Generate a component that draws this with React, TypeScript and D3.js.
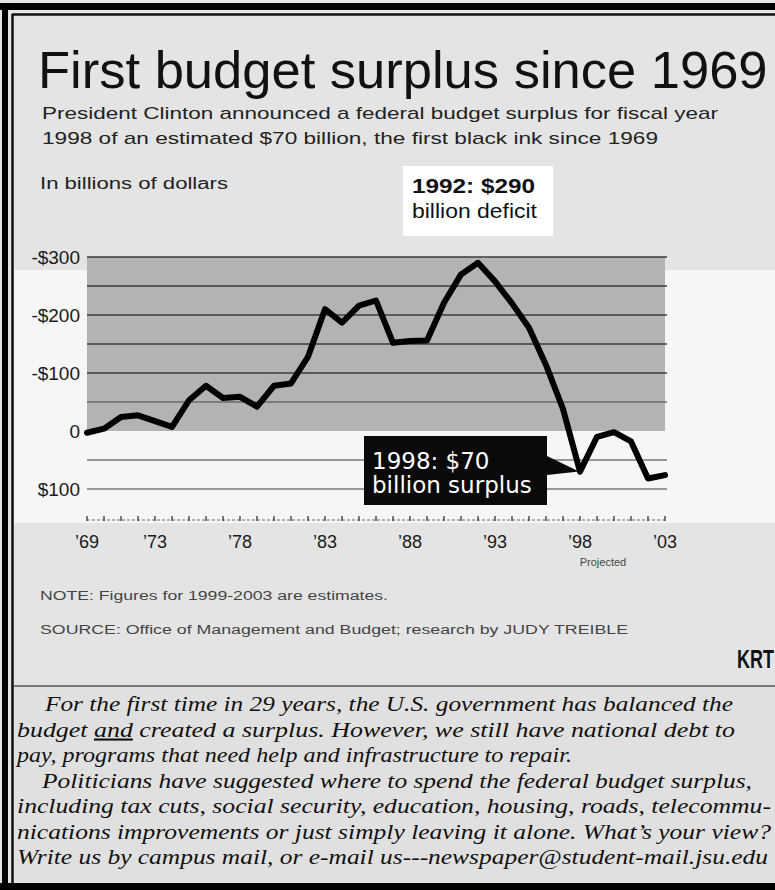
import React from "react";
import * as d3 from "d3";

const years = d3.range(1969, 2004);
const deficits = [
  -3, 4, 24, 27, 17, 7, 53, 78, 57, 59, 42, 78, 82, 128, 210, 187, 216, 225,
  152, 155, 156, 221, 270, 290, 258, 220, 178, 114, 38, -70, -10, -2, -18, -82, -76,
];
const yTickValues = [300, 200, 100, 0, -100];
const yTickLabels = ["-$300", "-$200", "-$100", "0", "$100"];
const gridDark = [300, 250, 200, 150, 100, 50];
const gridLight = [-50, -100];
const xLabelYears = [1969, 1973, 1978, 1983, 1988, 1993, 1998, 2003];
const xLabels = ["’69", "’73", "’78", "’83", "’88", "’93", "’98", "’03"];

const title = "First budget surplus since 1969";
const subtitle = [
  "President Clinton announced a federal budget surplus for fiscal year",
  "1998 of an estimated $70 billion, the first black ink since 1969",
];
const unitLabel = "In billions of dollars";
const note = "NOTE: Figures for 1999-2003 are estimates.";
const source = "SOURCE: Office of Management and Budget; research by JUDY TREIBLE";

const W = 775;
const H = 890;

export default function App() {
  const x = d3.scaleLinear().domain([1969, 2003]).range([87, 665]);
  const y = d3.scaleLinear().domain([0, 300]).range([431, 257]);
  const line = d3
    .line<number>()
    .x((_, i) => x(years[i]))
    .y((d) => y(d))
    .curve(d3.curveLinear);

  const sans = "'Liberation Sans', Arial, sans-serif";
  const serif = "'Liberation Serif', 'Times New Roman', serif";

  const tip = [x(1998), y(-70)];

  return (
    <svg
      width={W}
      height={H}
      style={{ position: "absolute", left: 0, top: 0 }}
      xmlns="http://www.w3.org/2000/svg"
    >
      <rect x={0} y={0} width={W} height={H} fill="#e4e4e4" />
      {/* white chart zone */}
      <rect x={14} y={270} width={W - 14} height={253} fill="#f6f6f6" />
      {/* deficit band */}
      <rect
        x={x(1969)}
        y={y(300)}
        width={x(2003) - x(1969)}
        height={y(0) - y(300)}
        fill="#b3b3b3"
      />
      {gridDark.map((g) => (
        <line
          key={"gd" + g}
          x1={x(1969)}
          x2={x(2003) + 2}
          y1={y(g)}
          y2={y(g)}
          stroke={g === 50 ? "#6a6a6a" : "#3d3d3d"}
          strokeWidth={1.6}
        />
      ))}
      {gridLight.map((g) => (
        <line
          key={"gl" + g}
          x1={x(1969)}
          x2={x(2003) + 2}
          y1={y(g)}
          y2={y(g)}
          stroke="#7a7a7a"
          strokeWidth={1.4}
        />
      ))}
      {/* y labels */}
      {yTickValues.map((v, i) => (
        <text
          key={"yl" + v}
          x={80}
          y={y(v) + 7}
          textAnchor="end"
          fontFamily={sans}
          fontSize={19}
          fill="#1a1a1a"
        >
          {yTickLabels[i]}
        </text>
      ))}
      {/* x axis */}
      <line
        x1={x(1969)}
        x2={x(2003)}
        y1={520}
        y2={520}
        stroke="#666"
        strokeWidth={1}
        strokeDasharray="3,2"
      />
      {years.map((yr) => (
        <line
          key={"t" + yr}
          x1={x(yr)}
          x2={x(yr)}
          y1={516}
          y2={521}
          stroke="#333"
          strokeWidth={1.3}
        />
      ))}
      {xLabelYears.map((yr, i) => (
        <text
          key={"xl" + yr}
          x={x(yr)}
          y={548}
          textAnchor="middle"
          fontFamily={sans}
          fontSize={18}
          fill="#1a1a1a"
        >
          {xLabels[i]}
        </text>
      ))}
      <text x={603} y={566} textAnchor="middle" fontFamily={sans} fontSize={11} fill="#444">
        Projected
      </text>

      {/* data line */}
      <path
        d={line(deficits) || ""}
        fill="none"
        stroke="#000"
        strokeWidth={6}
        strokeLinejoin="round"
        strokeLinecap="round"
      />

      {/* 1998 annotation */}
      <polygon
        points={`547,456 ${tip[0] - 1},${tip[1]} 547,475`}
        fill="#0a0a0a"
      />
      <rect x={364} y={436} width={183} height={69} fill="#0a0a0a" />
      <text x={372} y={469} fontFamily="'DejaVu Sans', sans-serif" fontSize={23} fill="#fff">
        1998: $70
      </text>
      <text x={372} y={493} fontFamily="'DejaVu Sans', sans-serif" fontSize={23} fill="#fff">
        billion surplus
      </text>

      {/* 1992 annotation */}
      <rect x={403} y={166} width={150} height={70} fill="#ffffff" />
      <text
        x={412}
        y={193}
        fontFamily={sans}
        fontWeight="bold"
        fontSize={21}
        fill="#111"
        textLength={123}
        lengthAdjust="spacingAndGlyphs"
      >
        1992: $290
      </text>
      <text
        x={412}
        y={218}
        fontFamily={sans}
        fontSize={21}
        fill="#111"
        textLength={125}
        lengthAdjust="spacingAndGlyphs"
      >
        billion deficit
      </text>

      {/* titles */}
      <text x={38} y={88} fontFamily={sans} fontSize={52.5} fill="#111">
        {title}
      </text>
      <text
        x={42}
        y={119}
        fontFamily={sans}
        fontSize={17}
        fill="#222"
        textLength={676}
        lengthAdjust="spacingAndGlyphs"
      >
        {subtitle[0]}
      </text>
      <text
        x={42}
        y={144}
        fontFamily={sans}
        fontSize={17}
        fill="#222"
        textLength={616}
        lengthAdjust="spacingAndGlyphs"
      >
        {subtitle[1]}
      </text>
      <text
        x={40}
        y={189}
        fontFamily={sans}
        fontSize={16}
        fill="#222"
        textLength={188}
        lengthAdjust="spacingAndGlyphs"
      >
        {unitLabel}
      </text>

      {/* notes */}
      <text
        x={40}
        y={600}
        fontFamily={sans}
        fontSize={12}
        fill="#444"
        textLength={348}
        lengthAdjust="spacingAndGlyphs"
      >
        {note}
      </text>
      <text
        x={40}
        y={634}
        fontFamily={sans}
        fontSize={12}
        fill="#444"
        textLength={588}
        lengthAdjust="spacingAndGlyphs"
      >
        {source}
      </text>
      <text
        transform="translate(737,668) scale(0.72,1)"
        fontFamily={sans}
        fontWeight="bold"
        fontSize={25}
        fill="#111"
      >
        KRT
      </text>

      {/* bottom editorial box */}
      <rect x={14} y={686} width={W - 14} height={196} fill="#e0e0e0" />
      <line x1={14} x2={W} y1={686} y2={686} stroke="#555" strokeWidth={1.5} />
      {(
        [
          [45, 711, 688, "For the first time in 29 years, the U.S. government has balanced the"],
          [17, 736.5, 718, null],
          [17, 762, 555, "pay, programs that need help and infrastructure to repair."],
          [42, 787.5, 710, "Politicians have suggested where to spend the federal budget surplus,"],
          [17, 813, 754, "including tax cuts, social security, education, housing, roads, telecommu-"],
          [17, 838.5, 754, "nications improvements or just simply leaving it alone. What’s your view?"],
          [17, 864, 751, "Write us by campus mail, or e-mail us---newspaper@student-mail.jsu.edu"],
        ] as [number, number, number, string | null][]
      ).map(([tx, ty, tl, s], i) => (
        <text
          key={"b" + i}
          x={tx}
          y={ty}
          fontFamily={serif}
          fontStyle="italic"
          fontSize={21}
          fill="#111"
          textLength={tl}
          lengthAdjust="spacingAndGlyphs"
        >
          {s === null ? (
            <>
              {"budget "}
              <tspan textDecoration="underline">and</tspan>
              {" created a surplus.  However, we still have national debt to"}
            </>
          ) : (
            s
          )}
        </text>
      ))}

      {/* frame */}
      <rect x={0} y={3} width={W} height={7} fill="#000" />
      <rect x={2} y={3} width={6} height={H - 3} fill="#000" />
      <rect x={0} y={883} width={W} height={7} fill="#000" />
      <line x1={12} x2={W} y1={14.5} y2={14.5} stroke="#111" strokeWidth={2.5} />
      <line x1={12.5} x2={12.5} y1={14} y2={883} stroke="#111" strokeWidth={2.5} />
    </svg>
  );
}
